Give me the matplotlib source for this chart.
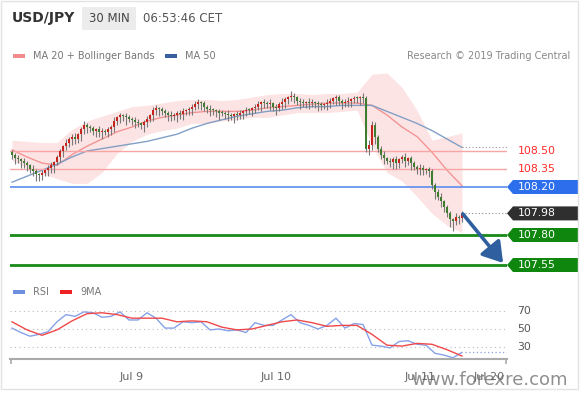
import numpy as np
import matplotlib.pyplot as plt
import pandas as pd
from matplotlib.patches import Polygon, Rectangle

# 30 min candles, USD/JPY (close prices)
closes = [108.47, 108.44, 108.43, 108.42, 108.40, 108.38, 108.35, 108.33, 108.31, 108.30,
          108.32, 108.34, 108.36, 108.38, 108.41, 108.45, 108.50, 108.54, 108.57, 108.60,
          108.62, 108.60, 108.64, 108.68, 108.72, 108.70, 108.69, 108.67, 108.68, 108.66,
          108.67, 108.66, 108.68, 108.70, 108.75, 108.78, 108.80, 108.79, 108.78, 108.77,
          108.76, 108.74, 108.73, 108.72, 108.74, 108.77, 108.80, 108.84, 108.86, 108.85,
          108.83, 108.82, 108.80, 108.79, 108.80, 108.82, 108.81, 108.83, 108.84, 108.85,
          108.87, 108.89, 108.91, 108.90, 108.87, 108.85, 108.84, 108.84, 108.83, 108.82,
          108.82, 108.81, 108.80, 108.79, 108.81, 108.80, 108.82, 108.83, 108.84, 108.84,
          108.86, 108.87, 108.89, 108.91, 108.90, 108.89, 108.90, 108.87, 108.86, 108.89,
          108.91, 108.93, 108.95, 108.96, 108.95, 108.92, 108.91, 108.90, 108.91, 108.90,
          108.91, 108.90, 108.89, 108.88, 108.89, 108.90, 108.92, 108.94, 108.95, 108.92,
          108.90, 108.91, 108.92, 108.93, 108.94, 108.94, 108.95, 108.94, 108.52, 108.55,
          108.72, 108.62, 108.52, 108.47, 108.44, 108.42, 108.41, 108.43, 108.40, 108.43,
          108.45, 108.42, 108.44, 108.40, 108.37, 108.35, 108.36, 108.34, 108.35, 108.33,
          108.22, 108.16, 108.12, 108.08, 108.03, 107.98, 107.93, 107.92, 107.95, 107.94,
          107.98]
first_open = 108.49
# wicks beyond the body, in pips
wick_up = [2, 1, 3, 1, 2, 2, 1, 3, 2, 1, 2, 1, 2, 3, 1, 2, 2, 1, 3, 2,
           2, 3, 1, 2, 3, 1, 2, 2, 1, 3, 2, 1, 2, 2, 3, 1, 2, 1, 3, 2,
           1, 2, 3, 1, 2, 2, 1, 3, 2, 1, 2, 2, 1, 3, 2, 1, 2, 3, 1, 2,
           2, 3, 2, 1, 2, 1, 3, 2, 1, 2, 2, 1, 3, 2, 1, 2, 2, 1, 3, 2,
           1, 2, 3, 1, 2, 2, 3, 1, 2, 2, 3, 2, 1, 4, 2, 1, 2, 2, 1, 3,
           2, 1, 2, 2, 1, 3, 2, 1, 2, 2, 1, 2, 3, 1, 2, 2, 1, 3, 2, 4,
           3, 2, 1, 2, 3, 1, 2, 2, 3, 1, 2, 3, 1, 2, 2, 1, 3, 2, 1, 2,
           2, 1, 2, 3, 1, 2, 2, 1, 3, 2, 2]
wick_dn = [4, 5, 3, 6, 4, 5, 3, 4, 6, 5, 4, 3, 5, 4, 6, 3, 4, 5, 3, 4,
           5, 4, 3, 6, 4, 5, 3, 4, 5, 4, 6, 3, 4, 5, 4, 3, 5, 4, 6, 3,
           4, 5, 3, 4, 6, 4, 3, 5, 4, 6, 3, 4, 5, 4, 3, 6, 4, 5, 3, 4,
           5, 3, 4, 6, 4, 3, 5, 4, 5, 6, 3, 4, 5, 3, 6, 4, 3, 5, 4, 3,
           5, 4, 3, 6, 4, 3, 5, 4, 6, 3, 4, 5, 4, 3, 5, 4, 6, 3, 4, 5,
           3, 4, 6, 4, 3, 5, 4, 3, 6, 4, 5, 3, 4, 5, 3, 4, 6, 4, 3, 5,
           4, 6, 3, 4, 5, 3, 4, 6, 5, 4, 3, 5, 4, 6, 3, 4, 5, 4, 3, 5,
           4, 6, 3, 5, 4, 3, 6, 9, 4, 5, 3]

# indicators, one value every 5 candles
ma_step = 5
ma20 = [108.51, 108.45, 108.40, 108.38, 108.47, 108.54, 108.60, 108.66, 108.70, 108.75,
        108.78, 108.80, 108.82, 108.83, 108.83, 108.83, 108.84, 108.86, 108.87, 108.88,
        108.89, 108.90, 108.90, 108.90, 108.88, 108.80, 108.70, 108.62, 108.49, 108.34,
        108.21]
ma50 = [108.24, 108.29, 108.34, 108.39, 108.45, 108.50, 108.52, 108.54, 108.56, 108.58,
        108.61, 108.64, 108.69, 108.73, 108.76, 108.79, 108.81, 108.83, 108.84, 108.86,
        108.87, 108.87, 108.88, 108.88, 108.88, 108.83, 108.78, 108.73, 108.67, 108.60,
        108.53]
bb_upper = [108.59, 108.58, 108.57, 108.57, 108.68, 108.75, 108.79, 108.83, 108.87, 108.88,
            108.90, 108.92, 108.93, 108.93, 108.92, 108.93, 108.95, 108.97, 108.98, 108.98,
            108.97, 108.98, 108.98, 108.99, 109.14, 109.15, 109.03, 108.84, 108.59, 108.62,
            108.65]
bb_lower = [108.42, 108.36, 108.31, 108.27, 108.23, 108.23, 108.32, 108.48, 108.58, 108.64,
            108.67, 108.69, 108.73, 108.73, 108.75, 108.76, 108.78, 108.78, 108.80, 108.82,
            108.82, 108.82, 108.83, 108.84, 108.55, 108.32, 108.25, 108.12, 107.98, 107.88,
            107.82]

# RSI every 3 candles, its 9MA every 5 candles
rsi_step = 3
rsi = [51, 46, 42, 44, 47, 58, 66, 64, 69, 68, 63, 64, 69, 60, 60, 68, 62, 51, 51, 58,
       57, 58, 49, 50, 48, 49, 46, 57, 54, 54, 60, 66, 57, 54, 50, 54, 62, 51, 56, 55,
       32, 31, 29, 36, 37, 33, 32, 23, 21, 18, 24]
rsi_ma_step = 5
rsi_ma9 = [58, 49, 43, 49, 59, 67, 68, 66, 62, 62, 62, 58, 59, 58, 52, 49, 50, 54, 58, 60,
           57, 53, 54, 54, 44, 32, 31, 34, 33, 27, 20]
rsi_levels = [70, 50, 30]

date_ticks = [40, 88, 136, 159]
date_labels = ['Jul 9', 'Jul 10', 'Jul 11', 'Jul 20']

resistances = [108.50, 108.35]
pivot = 108.20
last_price = closes[-1]
supports = [107.80, 107.55]
target = 107.55

df = pd.DataFrame({'close': closes})
df['open'] = df['close'].shift(1).fillna(first_open)
body_lo = df[['open', 'close']].min(axis=1)
body_hi = df[['open', 'close']].max(axis=1)
df['high'] = body_hi + np.array(wick_up) / 100
df['low'] = body_lo - np.array(wick_dn) / 100
idx = np.arange(len(df))

W, H = 580, 393
fig = plt.figure(figsize=(W / 100, H / 100), dpi=100)
fig.patch.set_facecolor('white')


def fx(px):
    return px / W


def fy(py):
    return 1 - py / H


x0, x1 = -0.67, 165

# ---- main price panel
ax = fig.add_axes([fx(10), fy(280), fx(497), 210 / H])
ax.set_xlim(x0, x1)
ax.set_ylim(107.425, 109.175)
ax.axis('off')

ma_x = np.arange(0, len(closes), ma_step)
ax.fill_between(ma_x, bb_lower, bb_upper, color='#fde4e4', lw=0, zorder=1)
ax.plot(ma_x, ma20, color='#f39494', lw=1, zorder=2)
ax.plot(ma_x, ma50, color='#829fc6', lw=1, zorder=2)

colors = np.where(df['close'] > df['open'], '#c8241e', '#3e7d2e')
ax.vlines(idx, df['low'], df['high'], color='#777777', lw=0.8, zorder=3)
ax.bar(idx, np.maximum(body_hi - body_lo, 0.006), bottom=body_lo, width=0.65,
       color=colors, lw=0, zorder=4)

for lv in resistances:
    ax.axhline(lv, color='#f7a5a5', lw=1, zorder=2)
ax.axhline(pivot, color='#5b8cee', lw=1.2, zorder=2)
for lv in supports:
    ax.axhline(lv, color='#188a18', lw=2, zorder=2)

ax.hlines(ma50[-1], ma_x[-1], x1, color='#9a9a9a', lw=0.8, ls=(0, (1, 2)))
ax.hlines(last_price, idx[-1] + 1, x1, color='#8a8a8a', lw=0.8, ls=(0, (1, 2)))

ax.annotate('', xy=(163.7, target + 0.017), xytext=(150.3, last_price - 0.005),
            arrowprops=dict(arrowstyle='-|>,head_length=0.6,head_width=0.38',
                            mutation_scale=20, color='#2f5f9f', lw=2.6,
                            shrinkA=0, shrinkB=0), zorder=6)

trans = ax.get_yaxis_transform()
for lv in resistances:
    ax.text(1.021, lv, f'{lv:.2f}', transform=trans, color='#ff2a2a',
            fontsize=7.8, va='center', ha='left', clip_on=False)

half = 7 / 120
bx_r = (578 - 10) / 497
tip = 6 / 497
for lv, col in [(pivot, '#2c6eec'), (last_price, '#2f2f2f'),
                (supports[0], '#0f870f'), (supports[1], '#0f870f')]:
    poly = Polygon([(1.0, lv), (1.0 + tip, lv + half), (bx_r, lv + half),
                    (bx_r, lv - half), (1.0 + tip, lv - half)], closed=True,
                   transform=trans, facecolor=col, edgecolor='none', clip_on=False)
    ax.add_patch(poly)
    ax.text(1.021, lv, f'{lv:.2f}', transform=trans, color='white',
            fontsize=7.8, va='center', ha='left', clip_on=False)

# ---- RSI panel
ax2 = fig.add_axes([fx(10), fy(359), fx(497), 59 / H])
ax2.set_xlim(x0, x1)
ax2.set_ylim(16.67, 82.2)
for s in ['top', 'right', 'left']:
    ax2.spines[s].set_visible(False)
ax2.spines['bottom'].set_color('#aaaaaa')
ax2.spines['bottom'].set_linewidth(1.5)
ax2.set_yticks([])
ax2.set_xticks(date_ticks)
ax2.set_xticklabels(date_labels)
ax2.tick_params(axis='x', length=0, pad=9, labelsize=8, labelcolor='#666666')
ax2.vlines([x0 + 0.3, x1 - 0.3], -0.09, 0, transform=ax2.get_xaxis_transform(),
           color='#aaaaaa', lw=1.2, clip_on=False)

for lv in rsi_levels:
    ax2.axhline(lv, color='#bbbbbb', lw=0.8, ls=(0, (1, 3)))
    ax2.text(1.02, lv, str(lv), transform=ax2.get_yaxis_transform(), fontsize=7.8,
             color='#555555', va='center', ha='left')

rsi_x = np.arange(0, len(closes), rsi_step)
rsi_ma_x = np.arange(0, len(closes), rsi_ma_step)
ax2.plot(rsi_x, rsi, color='#86a2e8', lw=1)
ax2.plot(rsi_ma_x, rsi_ma9, color='#f04848', lw=1)
ax2.hlines(rsi[-1], rsi_x[-1] + 1, x1, color='#86a2e8', lw=0.9, ls=(0, (1, 2)))

# ---- header, legends, texts
fig.text(fx(12), fy(18), 'USD/JPY', fontsize=10, weight='bold', color='#333333', va='center')
fig.add_artist(Rectangle((fx(82), fy(30)), fx(54), 23 / H, transform=fig.transFigure,
                         facecolor='#ececec', edgecolor='none'))
fig.text(fx(109), fy(18), '30 MIN', fontsize=8.5, color='#444444', va='center', ha='center')
fig.text(fx(143), fy(18), '06:53:46 CET', fontsize=8.5, color='#555555', va='center')

fig.add_artist(Rectangle((fx(13), fy(58)), fx(12), 4 / H, transform=fig.transFigure,
                         facecolor='#f28b8b', edgecolor='none'))
fig.text(fx(33), fy(56), 'MA 20 + Bollinger Bands', fontsize=7, color='#777777', va='center')
fig.add_artist(Rectangle((fx(165), fy(58)), fx(12), 4 / H, transform=fig.transFigure,
                         facecolor='#3a5f9e', edgecolor='none'))
fig.text(fx(185), fy(56), 'MA 50', fontsize=7, color='#777777', va='center')
fig.text(fx(570), fy(56), 'Research \u00a9 2019 Trading Central', fontsize=7,
         color='#888888', va='center', ha='right')

fig.add_artist(Rectangle((fx(13), fy(294)), fx(12), 4 / H, transform=fig.transFigure,
                         facecolor='#6f8fe0', edgecolor='none'))
fig.text(fx(33), fy(292), 'RSI', fontsize=7, color='#777777', va='center')
fig.add_artist(Rectangle((fx(60), fy(294)), fx(12), 4 / H, transform=fig.transFigure,
                         facecolor='#ee2222', edgecolor='none'))
fig.text(fx(80), fy(292), '9MA', fontsize=7, color='#777777', va='center')

# watermark laid over the date axis, as in the original image
fig.text(fx(489), fy(380), 'www.forexre.com', fontsize=13, color='#6a6a6a', alpha=0.75,
         va='center', ha='center')

fig.add_artist(Rectangle((fx(1), fy(389)), fx(577), 388 / H, transform=fig.transFigure,
                         fill=False, edgecolor='#e3e3e3', lw=1))

fig.savefig('out.png', dpi=100)
